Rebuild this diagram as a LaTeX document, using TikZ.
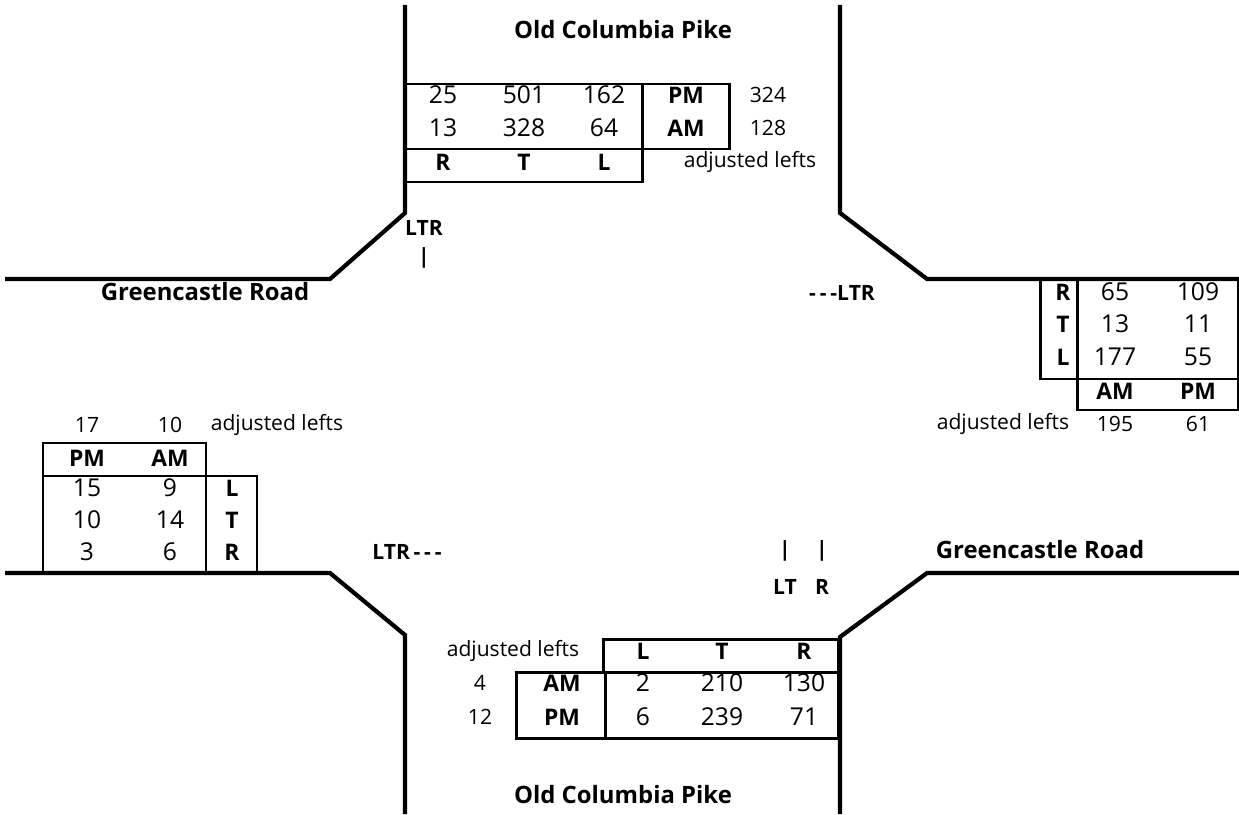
\documentclass[tikz,border=0pt]{standalone}
\usepackage{fontspec}
\setmainfont{Open Sans}

\tikzset{
  road/.style={line width=2.4pt},
  cell/.style={draw, line width=1.7pt},
  num/.style={font=\fontsize{14}{16}\selectfont, inner sep=0pt},
  lbl/.style={font=\fontsize{13}{15}\selectfont\bfseries, inner sep=0pt},
  lane/.style={font=\fontsize{12}{14}\selectfont\bfseries, inner sep=0pt},
  note/.style={font=\fontsize{12}{14}\selectfont, inner sep=0pt},
  roadname/.style={font=\fontsize{13.6}{16}\selectfont\bfseries, inner sep=0pt},
}
\newcommand{\dashes}{-\kern2.2pt-\kern2.2pt-}

\begin{document}
\begin{tikzpicture}[x=0.02cm, y=-0.02cm]
  \useasboundingbox (0,0) rectangle (1239,814);
  % road edges
  \draw[road] (405,5) -- (405,213) -- (330,279) -- (5,279);
  \draw[road] (840,5) -- (840,213) -- (927,279) -- (1239,279);
  \draw[road] (5,573) -- (330,573) -- (405,635) -- (405,814);
  \draw[road] (1239,573) -- (927,573) -- (840,637) -- (840,814);
  \node[roadname] (oldN) at (623,30) {Old Columbia Pike};
  \node[roadname] (oldS) at (623,795) {Old Columbia Pike};
  \node[roadname] (greenW) at (205,292) {Greencastle Road};
  \node[roadname] (greenE) at (1040,550) {Greencastle Road};

  % north approach
  \draw[cell] (405,84) rectangle (642,149);
  \draw[cell] (642,84) rectangle (729,149);
  \draw[cell] (405,149) rectangle (642,182);
  \foreach \v/\x [count=\i] in {25/443, 501/524, 162/604} { \node[num] (nPM\i) at (\x,95) {\v}; }
  \foreach \v/\x [count=\i] in {13/443, 328/524, 64/604} { \node[num] (nAM\i) at (\x,128) {\v}; }
  \foreach \v/\x [count=\i] in {R/443, T/524, L/604} { \node[lbl] (nMv\i) at (\x,162) {\v}; }
  \node[lbl] (nPM) at (686,95) {PM};
  \node[lbl] (nAM) at (686,128) {AM};
  \node[note] (nPMadj) at (768,95) {324};
  \node[note] (nAMadj) at (768,128) {128};
  \node[note] (nAdj) at (750,162) {adjusted lefts};
  \node[lane] (nLane) at (424,228) {LTR};
  \node[lane] (nBar) at (424,258) {|};

  % east approach
  \draw[cell] (1040,279) rectangle (1077,379);
  \draw[cell] (1077,279) rectangle (1238,379);
  \draw[cell] (1077,379) rectangle (1238,410);
  \foreach \m/\a/\p/\y [count=\i] in {R/65/109/292, T/13/11/324, L/177/55/357} {
    \node[lbl] (eMv\i) at (1063,\y) {\m};
    \node[num] (eAM\i) at (1115,\y) {\a};
    \node[num] (ePM\i) at (1198,\y) {\p};
  }
  \node[lbl] (eAM) at (1115,391) {AM};
  \node[lbl] (ePM) at (1198,391) {PM};
  \node[note] (eAdj) at (1003,424) {adjusted lefts};
  \node[note] (eAMadj) at (1115,424) {195};
  \node[note] (ePMadj) at (1198,424) {61};
  \node[lane] (eLane) at (842,293) {\dashes LTR};

  % west approach
  \draw[cell] (43,443) rectangle (206,476);
  \draw[cell] (43,476) rectangle (206,573);
  \draw[cell] (206,476) rectangle (257,573);
  \node[note] (wPMadj) at (87,425) {17};
  \node[note] (wAMadj) at (170,425) {10};
  \node[note] (wAdj) at (277,425) {adjusted lefts};
  \node[lbl] (wPM) at (87,458) {PM};
  \node[lbl] (wAM) at (170,458) {AM};
  \foreach \p/\a/\m/\y [count=\i] in {15/9/L/488, 10/14/T/520, 3/6/R/552} {
    \node[num] (wPM\i) at (87,\y) {\p};
    \node[num] (wAM\i) at (170,\y) {\a};
    \node[lbl] (wMv\i) at (232,\y) {\m};
  }
  \node[lane] (wLane) at (407,552) {LTR\kern2pt\dashes};

  % south approach
  \draw[cell] (603,639) rectangle (838,672);
  \draw[cell] (516,672) rectangle (605,738);
  \draw[cell] (605,672) rectangle (838,738);
  \foreach \v/\x [count=\i] in {L/643, T/722, R/804} { \node[lbl] (sMv\i) at (\x,651) {\v}; }
  \foreach \v/\x [count=\i] in {2/643, 210/722, 130/804} { \node[num] (sAM\i) at (\x,683) {\v}; }
  \foreach \v/\x [count=\i] in {6/643, 239/722, 71/804} { \node[num] (sPM\i) at (\x,717) {\v}; }
  \node[lbl] (sAM) at (562,683) {AM};
  \node[lbl] (sPM) at (562,717) {PM};
  \node[note] (sAdj) at (513,651) {adjusted lefts};
  \node[note] (sAMadj) at (480,683) {4};
  \node[note] (sPMadj) at (480,717) {12};
  \node[lane] (sBarA) at (785,551) {|};
  \node[lane] (sBarB) at (822,551) {|};
  \node[lane] (sLaneA) at (785,587) {LT};
  \node[lane] (sLaneB) at (822,587) {R};
\end{tikzpicture}
\end{document}
